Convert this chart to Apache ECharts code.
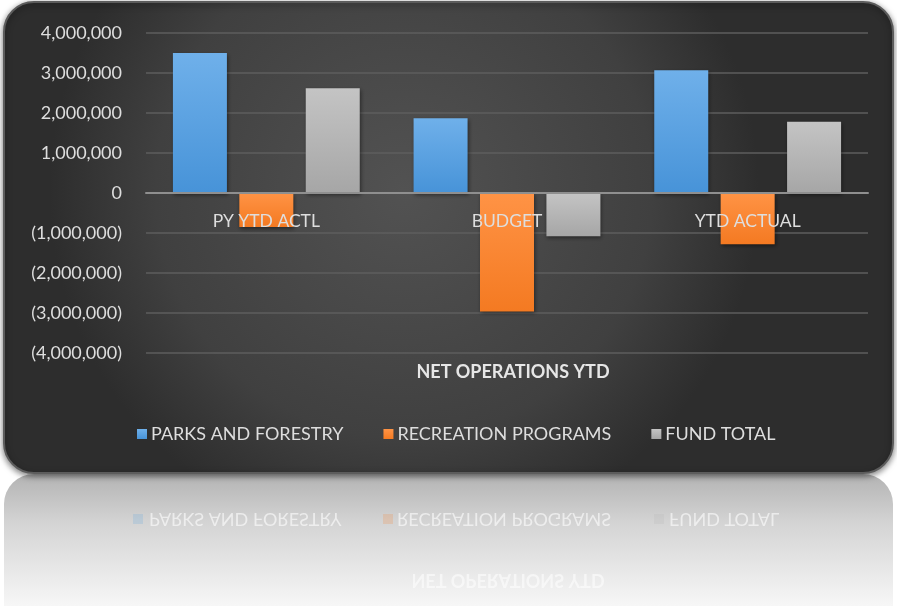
<!DOCTYPE html>
<html>
<head>
<meta charset="utf-8">
<script src="https://cdn.jsdelivr.net/npm/echarts@6/dist/echarts.min.js"></script>
<style>
  html, body { margin: 0; padding: 0; background: #ffffff; }
  #chart { width: 897px; height: 606px; }
</style>
</head>
<body>
<div id="chart"></div>
<script>
var categories = ['PY YTD ACTL', 'BUDGET', 'YTD ACTUAL'];
var seriesNames = ['PARKS AND FORESTRY', 'RECREATION PROGRAMS', 'FUND TOTAL'];
var parks = [3500000, 1870000, 3070000];
var recreation = [-850000, -2960000, -1280000];
var fundTotal = [2620000, -1080000, 1780000];
var chartTitle = 'NET OPERATIONS YTD';

var FONT = 'Lato, "Open Sans", sans-serif';

function grad(top, bottom) {
  return new echarts.graphic.LinearGradient(0, 0, 0, 1, [
    { offset: 0, color: top },
    { offset: 1, color: bottom }
  ]);
}

function fmt(v) {
  var s = Math.abs(v).toLocaleString('en-US');
  return v < 0 ? '(' + s + ')' : s;
}

var colors = [
  grad('#6fb0ea', '#4793d8'),
  grad('#ff9345', '#f47a22'),
  grad('#c4c4c4', '#a6a6a6')
];
var legendColors = ['#5ba3e3', '#f9832f', '#b4b4b4'];
var values = [parks, recreation, fundTotal];

var chart = echarts.init(document.getElementById('chart'));

// mirrored legend/title texts for the reflection
var reflection = [];
var legendX = [149, 397, 669];
var squareX = [133, 383, 654];
seriesNames.forEach(function (n, i) {
  reflection.push({
    type: 'rect', z: 1,
    shape: { x: squareX[i], y: 514, width: 10, height: 10 },
    style: { fill: legendColors[i], opacity: 0.2 }
  });
  reflection.push({
    type: 'text', z: 1,
    x: legendX[i], y: 519, scaleY: -1,
    style: { text: n, fill: 'rgba(255,255,255,0.6)', font: '18px ' + FONT, verticalAlign: 'middle' }
  });
});
reflection.push({
  type: 'text', z: 1,
  x: 508, y: 580, scaleY: -1,
  style: { text: chartTitle, fill: 'rgba(255,255,255,0.55)', font: 'bold 18px ' + FONT, align: 'center', verticalAlign: 'middle' }
});

var option = {
  animation: false,
  textStyle: { fontFamily: FONT },
  graphic: [
    {
      type: 'rect', z: 0,
      shape: { x: 4, y: 474, width: 889, height: 140, r: [30, 30, 0, 0] },
      style: {
        fill: new echarts.graphic.LinearGradient(0, 0, 0, 1, [
          { offset: 0, color: '#b3b3b3' },
          { offset: 0.35, color: '#d4d4d4' },
          { offset: 1, color: '#fafafa' }
        ])
      }
    },
    {
      type: 'rect', z: 0,
      shape: { x: 4, y: 2, width: 889, height: 471, r: 30 },
      style: {
        fill: new echarts.graphic.RadialGradient(0.45, 0.4, 0.75, [
          { offset: 0, color: '#525252' },
          { offset: 0.7, color: '#404040' },
          { offset: 1, color: '#2d2d2d' }
        ]),
        stroke: '#5c5c5c',
        lineWidth: 2,
        shadowBlur: 6,
        shadowColor: 'rgba(0,0,0,0.5)',
        shadowOffsetY: 2
      }
    }
  ].concat(reflection),
  title: {
    text: chartTitle,
    left: 508,
    top: 358,
    textAlign: 'center',
    textStyle: { color: '#e6e6e6', fontSize: 18, fontWeight: 'bold', fontFamily: FONT }
  },
  legend: {
    data: seriesNames,
    left: 132,
    top: 420,
    itemWidth: 10,
    itemHeight: 10,
    itemGap: 40,
    icon: 'rect',
    textStyle: { color: '#dedede', fontSize: 18, fontFamily: FONT, padding: [0, 0, 0, -1] }
  },
  grid: { left: 146, right: 29, top: 33, bottom: 253, containLabel: false },
  xAxis: {
    type: 'category',
    data: categories,
    offset: -160,
    axisLine: { onZero: false, lineStyle: { color: '#8f8f8f', width: 2 } },
    axisTick: { show: false },
    axisLabel: { color: '#dedede', fontSize: 17.5, margin: 19, fontFamily: FONT },
    z: 10
  },
  yAxis: {
    type: 'value',
    min: -4000000,
    max: 4000000,
    interval: 1000000,
    axisLine: { show: false },
    axisTick: { show: false },
    axisLabel: { color: '#dedede', fontSize: 18, margin: 24, formatter: fmt, fontFamily: FONT },
    splitLine: { lineStyle: { color: '#5e5e5e', width: 1.5 } }
  },
  series: seriesNames.map(function (n, i) {
    return {
      name: n,
      type: 'bar',
      data: values[i],
      barWidth: 54,
      barGap: '23%',
      itemStyle: {
        color: colors[i],
        shadowBlur: 4,
        shadowColor: 'rgba(0,0,0,0.45)',
        shadowOffsetX: 1,
        shadowOffsetY: 2
      }
    };
  }),
  color: legendColors
};

chart.setOption(option);
</script>
</body>
</html>
